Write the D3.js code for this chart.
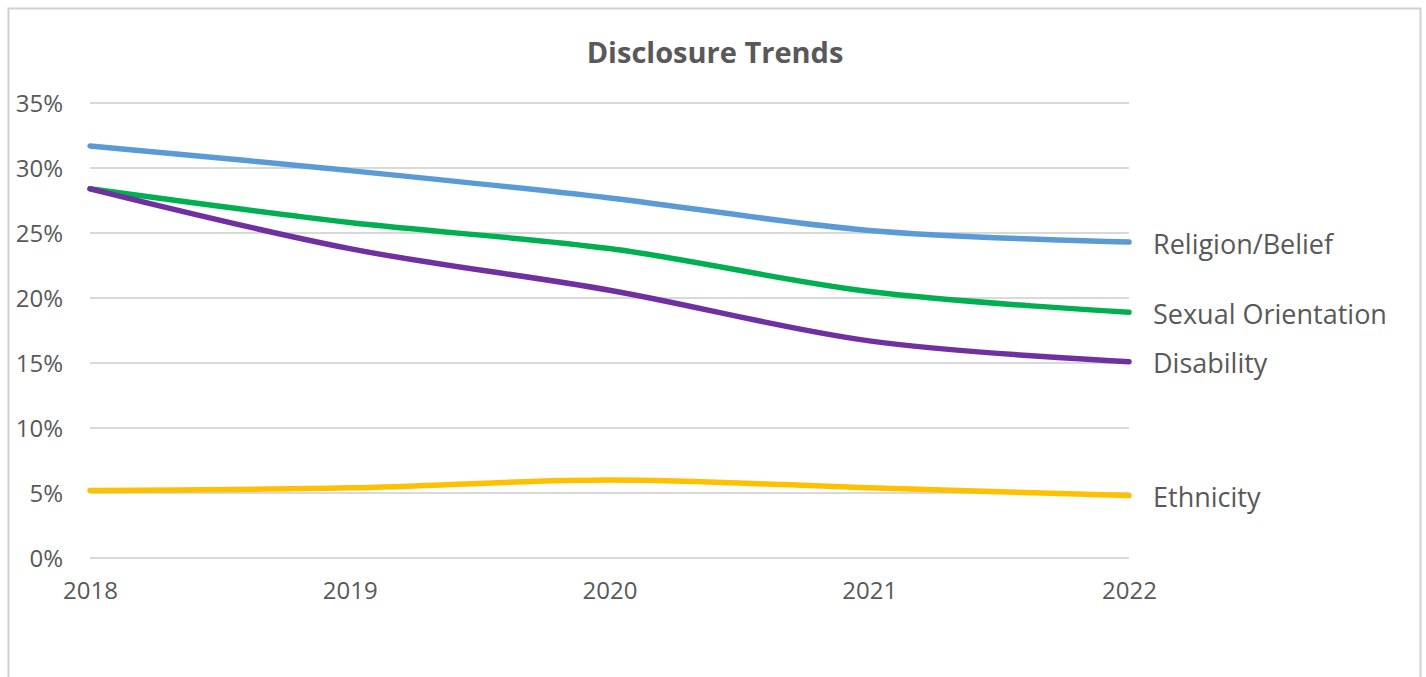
<!DOCTYPE html>
<html>
<head>
<meta charset="utf-8">
<script src="https://cdn.jsdelivr.net/npm/d3@7"></script>
<style>
  body { margin: 0; background: #fff; }
  text { font-family: "Open Sans", "Noto Sans", sans-serif; fill: #595959; }
</style>
</head>
<body>
<script>
// chart data
var years = [2018, 2019, 2020, 2021, 2022];
var religion = [31.7, 29.8, 27.7, 25.2, 24.3];
var sexualOrientation = [28.4, 25.8, 23.8, 20.5, 18.9];
var disability = [28.4, 23.8, 20.6, 16.7, 15.1];
var ethnicity = [5.2, 5.4, 6.0, 5.4, 4.8];
var yTicks = [0, 5, 10, 15, 20, 25, 30, 35];

var series = [
  { name: "Religion/Belief", values: religion, color: "#5b9bd5" },
  { name: "Sexual Orientation", values: sexualOrientation, color: "#00b050" },
  { name: "Disability", values: disability, color: "#7030a0" },
  { name: "Ethnicity", values: ethnicity, color: "#ffc000" }
];

var width = 1426, height = 677;

var svg = d3.select("body").append("svg")
    .attr("width", width)
    .attr("height", height);

// chart frame
svg.append("rect")
    .attr("x", 8.5).attr("y", 8.5)
    .attr("width", 1412).attr("height", 700)
    .attr("fill", "none")
    .attr("stroke", "#d0d0d0")
    .attr("stroke-width", 2);

var x = d3.scalePoint().domain(years).range([90, 1129]);
var y = d3.scaleLinear().domain([0, 35]).range([558, 103]);

// gridlines
svg.append("g").selectAll("line")
    .data(yTicks)
    .enter().append("line")
    .attr("x1", 90).attr("x2", 1129)
    .attr("y1", function(d) { return y(d); })
    .attr("y2", function(d) { return y(d); })
    .attr("stroke", "#d9d9d9")
    .attr("stroke-width", 2);

// y axis labels
var yAxis = d3.axisLeft(y).tickValues(yTicks).tickSize(0).tickPadding(0)
    .tickFormat(function(d) { return d + "%"; });
var gy = svg.append("g").attr("transform", "translate(63,0)").call(yAxis);
gy.select(".domain").remove();
gy.selectAll("text").attr("font-size", 24).style("font-family", null).attr("dy", "0.35em");

// x axis labels
var xAxis = d3.axisBottom(x).tickSize(0).tickPadding(0).tickFormat(d3.format("d"));
var gx = svg.append("g").attr("transform", "translate(0,582)").call(xAxis);
gx.select(".domain").remove();
gx.selectAll("text").attr("font-size", 24).style("font-family", null);

// title
svg.append("text")
    .attr("x", 715).attr("y", 63)
    .attr("text-anchor", "middle")
    .attr("font-size", 29)
    .attr("font-weight", "bold")
    .text("Disclosure Trends");

var line = d3.line()
    .x(function(d, i) { return x(years[i]); })
    .y(function(d) { return y(d); })
    .curve(d3.curveCardinal.tension(0));

svg.append("g").selectAll("path")
    .data(series)
    .enter().append("path")
    .attr("d", function(d) { return line(d.values); })
    .attr("fill", "none")
    .attr("stroke", function(d) { return d.color; })
    .attr("stroke-width", 5.5)
    .attr("stroke-linecap", "round");

// end labels
svg.append("g").selectAll("text")
    .data(series)
    .enter().append("text")
    .attr("x", 1153)
    .attr("y", function(d) { return y(d.values[d.values.length - 1]) + 2; })
    .attr("dy", "0.35em")
    .attr("font-size", 27)
    .text(function(d) { return d.name; });
</script>
</body>
</html>
